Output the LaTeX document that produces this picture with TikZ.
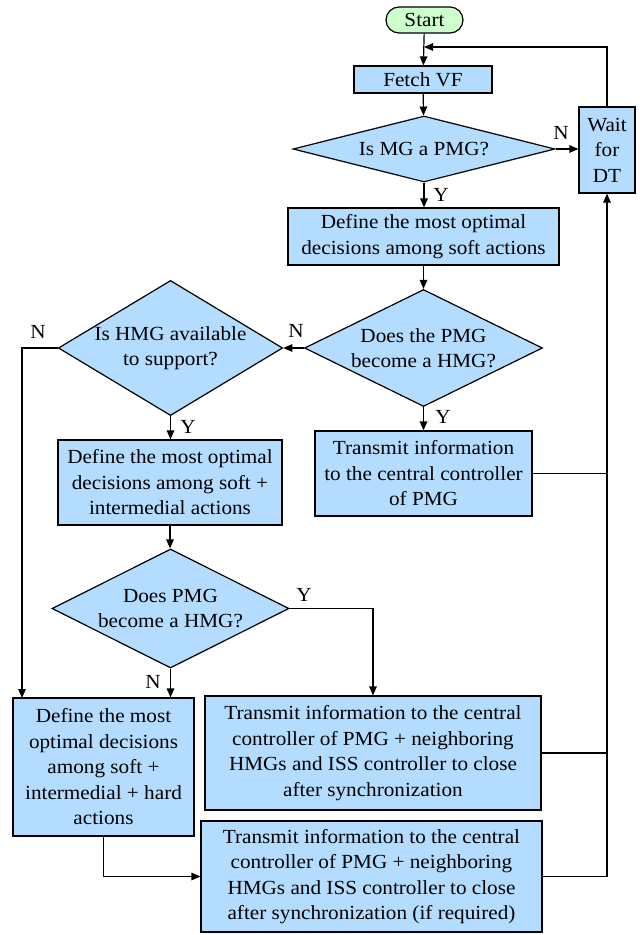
\documentclass[tikz,border=0pt]{standalone}
\usepackage{fontspec}
\setmainfont{Liberation Serif}[FakeStretch=1.06]
\usetikzlibrary{shapes.geometric,arrows.meta}
\definecolor{boxblue}{RGB}{180,220,255}
\definecolor{startgreen}{RGB}{204,255,204}

\begin{document}
\begin{tikzpicture}[x=1pt,y=-1pt,
  every node/.style={font=\fontsize{20}{25.5}\selectfont},
  term/.style={draw, fill=startgreen, rounded corners=13pt, align=center,
    inner sep=0pt, line width=1.2pt},
  proc/.style={draw, fill=boxblue, rectangle, align=center, inner sep=0pt,
    line width=1.2pt},
  dec/.style={draw, fill=boxblue, diamond, align=center, inner sep=0pt,
    line width=1.2pt},
  lbl/.style={inner sep=0pt},
  flow/.style={-{Triangle[length=9pt,width=7.5pt]}, line width=1.2pt},
  link/.style={line width=1.2pt}
]
\useasboundingbox (0,0) rectangle (640,935);

% process steps
\node[term, minimum width=77, minimum height=26] (start) at (424.5,20) {Start};
\node[proc, minimum width=138, minimum height=27] (fetch) at (423,79.5) {Fetch VF};
\node[dec, minimum width=262, minimum height=66, shape aspect=4] (d1) at (424,149) {Is MG a PMG?};
\node[proc, minimum width=56, minimum height=86] (wait) at (607,150) {Wait\\for\\DT};
\node[proc, minimum width=271, minimum height=57] (soft) at (423.5,236.5)
  {Define the most optimal\\decisions among soft actions};
\node[dec, minimum width=238, minimum height=117, shape aspect=2.05] (d2) at (423.5,348)
  {Does the PMG\\become a HMG?};
\node[dec, minimum width=223, minimum height=134, shape aspect=1.66] (d3) at (170.5,348)
  {Is HMG available\\to support?};
\node[proc, minimum width=217, minimum height=85] (tx1) at (423.5,473.5)
  {Transmit information\\to the central controller\\of PMG};
\node[proc, minimum width=224, minimum height=85] (mid) at (170,482.5)
  {Define the most optimal\\decisions among soft +\\intermedial actions};
\node[dec, minimum width=237, minimum height=119, shape aspect=2] (d4) at (170.5,608.5)
  {Does PMG\\become a HMG?};
\node[proc, minimum width=181, minimum height=138] (hard) at (103.5,767)
  {Define the most\\optimal decisions\\among soft +\\intermedial + hard\\actions};
\node[proc, minimum width=336, minimum height=114] (tx2) at (373,753)
  {Transmit information to the central\\controller of PMG + neighboring\\HMGs and ISS controller to close\\after synchronization};
\node[proc, minimum width=341, minimum height=111] (tx3) at (371.5,876.5)
  {Transmit information to the central\\controller of PMG + neighboring\\HMGs and ISS controller to close\\after synchronization (if required)};

% helper points
\coordinate (loopin) at (424,47);
\coordinate (leftdrop) at (22,698);

% connectors
\draw[flow] (start) -- (fetch);
\draw[flow] (wait.north) |- (loopin);
\draw[flow] (fetch) -- (d1);
\draw[flow] (d1.east) -- (d1.east -| wait.west);
\draw[flow] (d1.south) -- (d1.south |- soft.north);
\draw[flow] (soft) -- (d2);
\draw[flow] (d2.west) -- (d3.east);
\draw[flow] (d2.south) -- (d2.south |- tx1.north);
\draw[flow] (d3.south) -- (d3.south |- mid.north);
\draw[flow] (mid.south) -- (mid.south |- d4.north);
\draw[flow] (d3.west) -| (leftdrop);
\draw[flow] (d4.south) -- (d4.south |- hard.north);
\draw[flow] (d4.east) -| (tx2.north);
\draw[flow] (hard.south) |- (tx3.west);
\draw[flow] (tx3.east) -| (wait.south);
\draw[link] (tx1.east) -- (tx1.east -| wait.south);
\draw[link] (tx2.east) -- (tx2.east -| wait.south);

% branch labels
\node[lbl] (n1) at (561,133) {N};
\node[lbl] (y1) at (441,195) {Y};
\node[lbl] (n2) at (296,331) {N};
\node[lbl] (n3) at (38,332) {N};
\node[lbl] (y2) at (443,417) {Y};
\node[lbl] (y3) at (188,427) {Y};
\node[lbl] (y4) at (304,595) {Y};
\node[lbl] (n4) at (153,682) {N};
\end{tikzpicture}
\end{document}
